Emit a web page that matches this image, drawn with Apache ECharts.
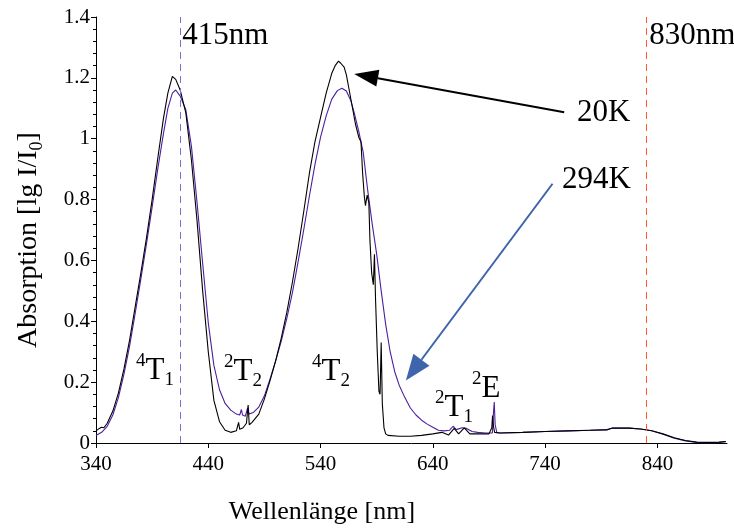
<!DOCTYPE html>
<html>
<head>
<meta charset="utf-8">
<script src="https://cdn.jsdelivr.net/npm/echarts@6/dist/echarts.min.js"></script>
<style>
  html, body { margin: 0; padding: 0; background: #ffffff; }
  #chart { width: 734px; height: 531px; }
</style>
</head>
<body>
<div id="chart"></div>
<script>
// Absorption spectrum at 20 K (wavelength in nm, absorbance lg I/I0)
const wl20K = [340, 343, 345, 347, 350, 355, 360, 365, 370, 375, 380, 385, 390, 395, 400, 404, 408, 411, 415, 420,
  425, 430, 435, 440, 445, 450, 455, 460, 465, 467, 468, 471, 474, 475.5, 476.5, 479, 485, 490, 495, 500,
  505, 510, 515, 520, 525, 530, 535, 540, 545, 550, 553, 556, 558, 561, 563, 565, 568, 571, 574, 576,
  577.5, 579, 580, 581.5, 583, 584, 585.5, 587, 588, 589, 590.5, 592, 593, 594, 595, 596.5, 598, 600, 610, 620,
  630, 640, 648, 654, 659, 663, 668, 673, 680, 690, 692.5, 693.2, 694, 695, 700, 720, 740, 760, 780, 795,
  800, 815, 825, 835, 845, 855, 865, 875, 885, 895, 901];
const abs20K = [0.040, 0.048, 0.052, 0.050, 0.065, 0.105, 0.165, 0.245, 0.340, 0.450, 0.560, 0.675, 0.800, 0.935, 1.065, 1.150, 1.205, 1.195, 1.160, 1.085,
  0.930, 0.730, 0.500, 0.300, 0.140, 0.070, 0.042, 0.035, 0.040, 0.068, 0.045, 0.050, 0.065, 0.125, 0.060, 0.068, 0.095, 0.145, 0.205, 0.270,
  0.345, 0.430, 0.530, 0.640, 0.760, 0.885, 0.990, 1.070, 1.150, 1.215, 1.240, 1.255, 1.248, 1.235, 1.210, 1.170, 1.110, 1.050, 1.005, 0.990,
  0.885, 0.810, 0.780, 0.815, 0.790, 0.665, 0.560, 0.520, 0.620, 0.470, 0.300, 0.170, 0.160, 0.330, 0.130, 0.050, 0.030, 0.025, 0.022, 0.022,
  0.025, 0.030, 0.035, 0.026, 0.048, 0.030, 0.050, 0.030, 0.030, 0.030, 0.050, 0.090, 0.055, 0.035, 0.033, 0.035, 0.038, 0.040, 0.042, 0.043,
  0.049, 0.049, 0.046, 0.040, 0.030, 0.017, 0.008, 0.003, 0.002, 0.003, 0.005];

// Absorption spectrum at 294 K
const wl294K = [340, 345, 350, 355, 360, 365, 370, 375, 380, 385, 390, 395, 400, 404, 408, 411, 415, 420, 425, 430,
  435, 440, 445, 450, 455, 460, 465, 468, 469.5, 470.5, 473, 475, 476.5, 480, 485, 490, 495, 500, 505, 510,
  515, 520, 525, 530, 535, 540, 545, 550, 555, 559, 563, 567, 570, 574, 578, 582, 586, 590, 594, 598,
  602, 606, 610, 615, 620, 625, 630, 635, 640, 645, 650, 655, 658, 661, 666, 670, 675, 680, 687, 693,
  694, 694.7, 695.5, 697, 700, 720, 740, 760, 780, 795, 800, 815, 825, 835, 845, 855, 865, 875, 885, 895, 901];
const abs294K = [0.025, 0.035, 0.055, 0.092, 0.150, 0.228, 0.320, 0.428, 0.540, 0.655, 0.775, 0.900, 1.015, 1.100, 1.150, 1.160, 1.140, 1.095, 0.975, 0.790,
  0.590, 0.395, 0.255, 0.175, 0.130, 0.108, 0.095, 0.092, 0.110, 0.092, 0.088, 0.115, 0.095, 0.100, 0.118, 0.155, 0.210, 0.270, 0.335, 0.410,
  0.495, 0.595, 0.700, 0.810, 0.915, 1.005, 1.075, 1.130, 1.158, 1.166, 1.157, 1.125, 1.085, 1.025, 0.955, 0.830, 0.720, 0.620, 0.500, 0.390,
  0.300, 0.235, 0.190, 0.150, 0.115, 0.092, 0.075, 0.062, 0.052, 0.042, 0.040, 0.042, 0.055, 0.044, 0.050, 0.048, 0.038, 0.035, 0.033, 0.033,
  0.100, 0.135, 0.060, 0.034, 0.033, 0.035, 0.038, 0.040, 0.042, 0.044, 0.049, 0.049, 0.046, 0.040, 0.029, 0.016, 0.007, 0.002, 0.000, 0.002, 0.004];

// Axis ticks
const xTicks = [340, 440, 540, 640, 740, 840];
const xMin = 340, xMax = 902;
const yMin = 0, yMax = 1.4, yStep = 0.2;

// Excitation wavelengths marked by dashed lines
const excitation = [415, 830];

const SERIF = 'Liberation Serif';

function pairs(xs, ys) { return xs.map((x, i) => [x, ys[i]]); }

const chart = echarts.init(document.getElementById('chart'), null, { renderer: 'canvas' });

chart.setOption({
  animation: false,
  backgroundColor: '#ffffff',
  textStyle: { fontFamily: SERIF },
  grid: { left: 96, right: 7, top: 17, bottom: 88, containLabel: false },
  xAxis: {
    type: 'value', min: xMin, max: xMax,
    splitLine: { show: false },
    axisLine: { show: true, onZero: false, lineStyle: { color: '#000', width: 1 } },
    axisTick: { show: true, inside: false, length: 5, customValues: xTicks, lineStyle: { color: '#000' } },
    axisLabel: { customValues: xTicks, margin: 11, color: '#000', fontFamily: SERIF, fontSize: 21 }
  },
  yAxis: {
    type: 'value', min: yMin, max: yMax, interval: yStep,
    splitLine: { show: false },
    axisLine: { show: true, lineStyle: { color: '#000', width: 1 } },
    axisTick: { show: true, inside: false, length: 5, lineStyle: { color: '#000' } },
    minorTick: { show: true, splitNumber: 5, length: 3, lineStyle: { color: '#000' } },
    axisLabel: { margin: 6, color: '#000', fontFamily: SERIF, fontSize: 21 }
  },
  series: [
    {
      name: '294K', type: 'line', showSymbol: false, z: 2,
      data: pairs(wl294K, abs294K),
      lineStyle: { color: '#4b1f9e', width: 1.1 },
      markLine: {
        silent: true, symbol: 'none', label: { show: false },
        data: [
          { xAxis: excitation[0], lineStyle: { color: '#7a70d0', type: [7, 5], width: 1 } },
          { xAxis: excitation[1], lineStyle: { color: '#ff5a2a', type: [7, 5], width: 1 } }
        ]
      }
    },
    {
      name: '20K', type: 'line', showSymbol: false, z: 3,
      data: pairs(wl20K, abs20K),
      lineStyle: { color: '#000000', width: 1.1 }
    }
  ]
});

// Helpers for annotations placed in data coordinates
const toPx = (p) => chart.convertToPixel({ gridIndex: 0 }, p);

function arrow(from, to, color, width, headLen, headHalf) {
  const a = toPx(from), b = toPx(to);
  const dx = b[0] - a[0], dy = b[1] - a[1];
  const len = Math.hypot(dx, dy);
  const ux = dx / len, uy = dy / len;
  const bx = b[0] - ux * headLen, by = b[1] - uy * headLen;
  return [
    { type: 'line', shape: { x1: a[0], y1: a[1], x2: bx, y2: by }, style: { stroke: color, lineWidth: width }, silent: true },
    { type: 'polygon', shape: { points: [[b[0], b[1]], [bx - uy * headHalf, by + ux * headHalf], [bx + uy * headHalf, by - ux * headHalf]] },
      style: { fill: color }, silent: true }
  ];
}

const termRich = {
  b: { fontFamily: SERIF, fontSize: 31, lineHeight: 38, fill: '#000' },
  sup: { fontFamily: SERIF, fontSize: 19, lineHeight: 19, verticalAlign: 'top', fill: '#000' },
  sub: { fontFamily: SERIF, fontSize: 19, lineHeight: 19, verticalAlign: 'bottom', fill: '#000' }
};

function term(x, y, sup, base, sub) {
  const txt = '{sup|' + sup + '}{b|' + base + '}' + (sub ? '{sub|' + sub + '}' : '');
  return { type: 'text', x: x, y: y, silent: true,
    style: { text: txt, rich: termRich, align: 'left', verticalAlign: 'middle' } };
}

function label(x, y, text, size) {
  return { type: 'text', x: x, y: y, silent: true,
    style: { text: text, fontFamily: SERIF, fontSize: size, fill: '#000', align: 'left', verticalAlign: 'middle' } };
}

const p415 = toPx([excitation[0], yMax]);
const p830 = toPx([excitation[1], yMax]);

const elements = [
  label(p415[0] + 2, 36, '415nm', 31),
  label(p830[0] + 3, 36, '830nm', 31),
  label(577, 113, '20K', 31),
  label(562, 180, '294K', 31),
  term(136, 371, '4', 'T', '1'),
  term(224, 371.5, '2', 'T', '2'),
  term(312, 371.5, '4', 'T', '2'),
  term(435, 407.5, '2', 'T', '1'),
  term(472, 388.5, '2', 'E', ''),
  { type: 'text', x: 322, y: 512, silent: true,
    style: { text: 'Wellenlänge [nm]', fontFamily: SERIF, fontSize: 26, fill: '#000', align: 'center', verticalAlign: 'middle' } },
  { type: 'text', x: 29, y: 240, rotation: Math.PI / 2, silent: true,
    style: { text: 'Absorption [lg I/I{s|0}]', fontFamily: SERIF, fontSize: 28, fill: '#000', align: 'center', verticalAlign: 'middle',
      lineHeight: 34,
      rich: { s: { fontFamily: SERIF, fontSize: 18, lineHeight: 18, verticalAlign: 'bottom', fill: '#000' } } } }
];

elements.push(...arrow([757, 1.087], [570, 1.213], '#000000', 2, 24, 8.5));
elements.push(...arrow([746.6, 0.852], [616, 0.205], '#3d64ad', 2, 26, 10));

chart.setOption({ graphic: { elements: elements } });
</script>
</body>
</html>
